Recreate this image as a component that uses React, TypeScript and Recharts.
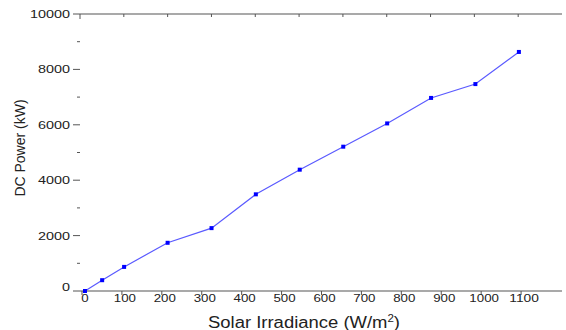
import { LineChart, Line, XAxis, YAxis } from 'recharts';

// Solar irradiance (W/m2) vs DC power (kW)
const irradiance = [0, 43, 98, 207, 317, 428, 538, 647, 757, 867, 978, 1087];
const dcPower = [0, 390, 870, 1740, 2270, 3490, 4380, 5210, 6050, 6970, 7470, 8630];

const xTicks = [0, 100, 200, 300, 400, 500, 600, 700, 800, 900, 1000, 1100];
const yTicks = [0, 1000, 2000, 3000, 4000, 5000, 6000, 7000, 8000, 9000, 10000];
const topTicks = [0, 1, 2, 3, 4, 5, 6, 7, 8, 9, 10];

const data = irradiance.map((x, i) => ({ x, power: dcPower[i] }));

const W = 566;
const H = 330;
const LEFT = 80;
const RIGHT = 562;
const TOP = 14;
const BOTTOM = 291;
const AXIS = '#555';
const TEXT = '#222';
const FONT = 'Liberation Sans, Arial, sans-serif';

function YTick(props: any) {
  const { payload } = props;
  const y = payload.coordinate;
  const major = payload.value % 2000 === 0;
  const label = String(payload.value);
  return (
    <g>
      <line x1={LEFT - (major ? 7 : 3)} x2={LEFT} y1={y} y2={y} stroke={AXIS} strokeWidth={1} />
      {major && (
        <text
          x={70}
          y={payload.value === 0 ? y - 4 : y}
          textAnchor="end"
          dominantBaseline="central"
          fontSize={11}
          fill={TEXT}
          fontFamily={FONT}
          textLength={label.length * 8}
          lengthAdjust="spacingAndGlyphs"
        >
          {label}
        </text>
      )}
    </g>
  );
}

function RightTick(props: any) {
  const y = props.payload.coordinate;
  return <line x1={RIGHT - 3} x2={RIGHT} y1={y} y2={y} stroke={AXIS} strokeWidth={1} />;
}

function XTick(props: any) {
  const { payload } = props;
  const x = payload.coordinate;
  const label = String(payload.value);
  return (
    <g>
      <line x1={x - 3} x2={x - 3} y1={BOTTOM} y2={BOTTOM + 4} stroke={AXIS} strokeWidth={1} />
      <text
        x={x}
        y={298}
        textAnchor="middle"
        dominantBaseline="central"
        fontSize={11}
        fill={TEXT}
        fontFamily={FONT}
        textLength={label.length * 7.4}
        lengthAdjust="spacingAndGlyphs"
      >
        {label}
      </text>
    </g>
  );
}

function TopTick(props: any) {
  const x = props.payload.coordinate;
  const first = props.payload.value === 0;
  return <line x1={x} x2={x} y1={TOP} y2={TOP + (first ? 5 : 3)} stroke={AXIS} strokeWidth={1} />;
}

function SquareDot(props: any) {
  const { cx, cy } = props;
  return <rect x={cx - 2} y={cy - 2} width={4} height={4} fill="#0000ff" />;
}

export default function App() {
  return (
    <div style={{ position: 'absolute', left: 0, top: 0, width: W, height: H, background: '#fff' }}>
      <LineChart width={W} height={H} data={data} margin={{ top: TOP - 1, right: 0, bottom: 9, left: 0 }}>
        <XAxis
          xAxisId="bottom"
          dataKey="x"
          type="number"
          domain={[-12.5, 1195]}
          ticks={xTicks}
          height={30}
          axisLine={{ stroke: AXIS, strokeWidth: 1.2 }}
          tickLine={false}
          tick={<XTick />}
          label={{
            content: () => (
              <text
                x={304}
                y={328}
                textAnchor="middle"
                fontSize={16}
                fill={TEXT}
                fontFamily={FONT}
                textLength={192}
                lengthAdjust="spacingAndGlyphs"
              >
                Solar Irradiance (W/m
                <tspan fontSize={10} dy={-6}>2</tspan>
                <tspan dy={6}>)</tspan>
              </text>
            ),
          }}
        />
        <XAxis
          xAxisId="top"
          orientation="top"
          type="number"
          domain={[0, 10]}
          ticks={topTicks}
          height={1}
          axisLine={{ stroke: AXIS, strokeWidth: 1.2 }}
          tickLine={false}
          tick={<TopTick />}
        />
        <YAxis
          yAxisId="left"
          type="number"
          domain={[0, 10000]}
          ticks={yTicks}
          width={LEFT}
          axisLine={false}
          tickLine={false}
          tick={<YTick />}
          label={{
            content: () => (
              <text
                x={20}
                y={148}
                transform="rotate(-90 20 148)"
                textAnchor="middle"
                dominantBaseline="central"
                fontSize={14}
                fill={TEXT}
                fontFamily={FONT}
              >
                DC Power (kW)
              </text>
            ),
          }}
        />
        <YAxis
          yAxisId="right"
          orientation="right"
          type="number"
          domain={[0, 10000]}
          ticks={yTicks}
          width={W - RIGHT}
          axisLine={false}
          tickLine={false}
          tick={<RightTick />}
        />
        <Line
          xAxisId="bottom"
          yAxisId="left"
          dataKey="power"
          type="linear"
          stroke="#5a5aff"
          strokeWidth={1.2}
          dot={<SquareDot />}
          activeDot={false}
          isAnimationActive={false}
        />
      </LineChart>
    </div>
  );
}
